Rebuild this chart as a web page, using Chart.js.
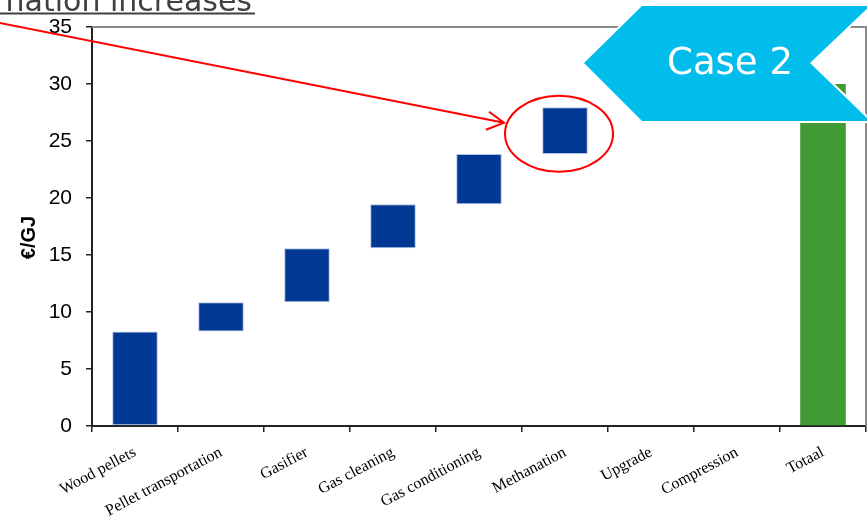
<!DOCTYPE html>
<html>
<head>
<meta charset="utf-8">
<script src="https://cdn.jsdelivr.net/npm/chart.js@4.4.1/dist/chart.umd.min.js"></script>
<style>
  html, body { margin: 0; padding: 0; background: #fff; }
</style>
</head>
<body>
<canvas id="myChart" width="867" height="529"></canvas>
<script>
// cost build-up per process step, in €/GJ
var categories = ["Wood pellets", "Pellet transportation", "Gasifier", "Gas cleaning",
  "Gas conditioning", "Methanation", "Upgrade", "Compression", "Totaal"];
var barFrom = [0, 8.3, 10.85, 15.6, 19.45, 23.85, null, null, 0];
var barTo = [8.3, 10.85, 15.6, 19.45, 23.85, 27.95, null, null, 30];
var yTickValues = [0, 5, 10, 15, 20, 25, 30, 35];
var yTitle = "€/GJ";
var headline = "nation increases";
var caseLabel = "Case 2";
var highlightIndex = 5;

var navy = "#003893";
var green = "#409b35";

var barData = [];
for (var i = 0; i < categories.length; i++) {
  barData.push(barFrom[i] === null ? null : [barFrom[i], barTo[i]]);
}

// extra drawing: plot frame, axis title, headline, arrow + ellipse, case banner
var decorations = {
  id: "decorations",
  beforeDraw: function (chart) {
    var ctx = chart.ctx;
    ctx.save();
    ctx.fillStyle = "#fff";
    ctx.fillRect(0, 0, chart.width, chart.height);
    ctx.restore();
  },
  beforeDatasetsDraw: function (chart) {
    var ctx = chart.ctx, a = chart.chartArea;
    ctx.save();
    ctx.strokeStyle = "#8c8c8c";
    ctx.lineWidth = 2;
    ctx.beginPath();
    ctx.moveTo(a.left, a.top);
    ctx.lineTo(a.right, a.top);
    ctx.lineTo(a.right, a.bottom);
    ctx.stroke();

    // y axis title, sits a bit below the middle of the axis
    ctx.translate(29, (a.top + a.bottom) / 2 + 11);
    ctx.rotate(-Math.PI / 2);
    ctx.font = "bold 20px 'Liberation Sans'";
    ctx.fillStyle = "#000";
    ctx.textAlign = "center";
    ctx.textBaseline = "middle";
    ctx.fillText(yTitle, 0, 0);
    ctx.restore();
  },
  afterDraw: function (chart) {
    var ctx = chart.ctx;
    ctx.save();

    // headline, cut off at the top edge
    ctx.font = "30px 'DejaVu Sans'";
    ctx.fillStyle = "#404040";
    ctx.textAlign = "right";
    ctx.textBaseline = "alphabetic";
    ctx.fillText(headline, 252, 11);
    ctx.strokeStyle = "#404040";
    ctx.lineWidth = 2;
    ctx.beginPath();
    ctx.moveTo(0, 13.5);
    ctx.lineTo(255, 13.5);
    ctx.stroke();

    // ellipse around the highlighted step
    var bar = chart.getDatasetMeta(0).data[highlightIndex];
    var cx = bar.x - 6, cy = (bar.y + bar.base) / 2 + 3;
    var rx = 54, ry = 38;
    ctx.strokeStyle = "#ff0000";
    ctx.lineWidth = 2;
    ctx.beginPath();
    ctx.ellipse(cx, cy, rx, ry, 0, 0, Math.PI * 2);
    ctx.stroke();

    // arrow pointing at it
    var tipX = cx - rx - 1, tipY = cy - 11;
    ctx.beginPath();
    ctx.moveTo(-5, 22);
    ctx.lineTo(tipX, tipY);
    ctx.moveTo(tipX - 15, tipY - 11);
    ctx.lineTo(tipX, tipY);
    ctx.lineTo(tipX - 18, tipY + 7);
    ctx.stroke();

    // case banner
    ctx.beginPath();
    ctx.moveTo(642, 6);
    ctx.lineTo(870, 6);
    ctx.lineTo(810, 63);
    ctx.lineTo(870, 121);
    ctx.lineTo(642, 121);
    ctx.lineTo(584, 63);
    ctx.closePath();
    ctx.lineWidth = 4;
    ctx.strokeStyle = "#fff";
    ctx.stroke();
    ctx.fillStyle = "#00bdec";
    ctx.fill();
    ctx.font = "37px 'DejaVu Sans'";
    ctx.fillStyle = "#fff";
    ctx.textAlign = "center";
    ctx.textBaseline = "middle";
    ctx.fillText(caseLabel, 730, 64);
    ctx.restore();
  }
};

var ctx = document.getElementById("myChart").getContext("2d");
var myChart = new Chart(ctx, {
  type: "bar",
  data: {
    labels: categories,
    datasets: [{
      data: barData,
      backgroundColor: categories.map(function (c, i) { return i === categories.length - 1 ? green : navy; }),
      borderColor: "#b3c2e4",
      borderWidth: categories.map(function (c, i) { return i === categories.length - 1 ? 0 : 1; }),
      borderSkipped: false,
      categoryPercentage: 1,
      barPercentage: 0.53
    }]
  },
  options: {
    responsive: false,
    animation: false,
    layout: { padding: { top: 27, right: 1, left: 0, bottom: 0 } },
    plugins: {
      legend: { display: false },
      tooltip: { enabled: false }
    },
    scales: {
      x: {
        afterFit: function (scale) { scale.height = 103; },
        grid: { drawOnChartArea: false, offset: true, tickLength: 6, color: "#222", lineWidth: 1.5 },
        border: { color: "#222", width: 2 },
        ticks: {
          autoSkip: false,
          minRotation: 28,
          maxRotation: 28,
          padding: 11,
          color: "#000",
          font: { family: "'Liberation Serif'", size: 16 }
        }
      },
      y: {
        min: 0,
        max: 35,
        afterFit: function (scale) { scale.width = 92; },
        afterBuildTicks: function (scale) {
          scale.ticks = yTickValues.map(function (v) { return { value: v }; });
        },
        grid: { drawOnChartArea: false, tickLength: 6, color: "#222", lineWidth: 1.5 },
        border: { color: "#222", width: 2 },
        ticks: {
          padding: 14,
          color: "#000",
          font: { family: "'Liberation Sans'", size: 21 }
        }
      }
    }
  },
  plugins: [decorations]
});
</script>
</body>
</html>
